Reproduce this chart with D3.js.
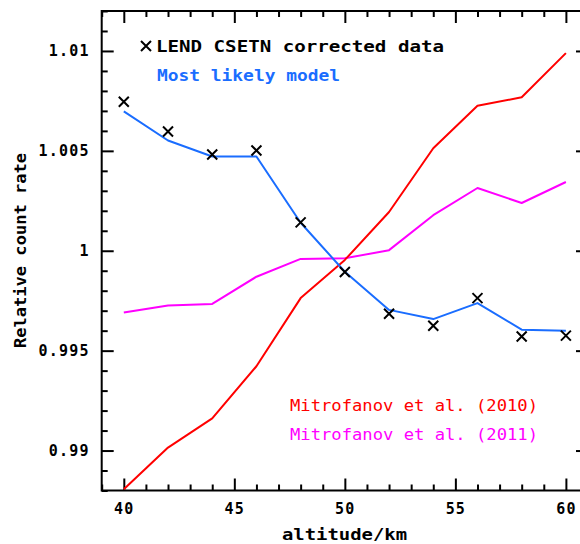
<!DOCTYPE html>
<html>
<head>
<meta charset="utf-8">
<script src="https://cdn.jsdelivr.net/npm/d3@7"></script>
<style>
  html, body { margin: 0; padding: 0; background: #fff; }
  svg { display: block; }
  text { font-family: "DejaVu Sans Mono", monospace; font-weight: bold; }
</style>
</head>
<body>
<svg id="chart" width="580" height="544"></svg>
<script>
// ---- data ----
const altitudes = [40, 42, 44, 46, 48, 50, 52, 54, 56, 58, 60];
const lendData = [1.00746, 1.00597, 1.00482, 1.00502, 1.00142, 0.99894, 0.99685, 0.99625, 0.99763, 0.99571, 0.99575];
const modelValues = [1.00698, 1.00552, 1.00472, 1.00472, 1.00140, 0.99895, 0.99704, 0.99658, 0.99738, 0.99605, 0.99600];
const mitro2010 = [0.98806, 0.99015, 0.99161, 0.99422, 0.99763, 0.99954, 1.00194, 1.00513, 1.00726, 1.00768, 1.00989];
const mitro2011 = [0.99691, 0.99726, 0.99734, 0.99870, 0.99959, 0.99962, 1.00003, 1.00178, 1.00314, 1.00239, 1.00344];
const xTickValues = [40, 45, 50, 55, 60];
const xMinorValues = [39, 41, 42, 43, 44, 46, 47, 48, 49, 51, 52, 53, 54, 56, 57, 58, 59, 61];
const yTickValues = [0.99, 0.995, 1, 1.005, 1.01];
const yTickLabels = ["0.99", "0.995", "1", "1.005", "1.01"];
const yMinorValues = [0.988, 0.989, 0.991, 0.992, 0.993, 0.994, 0.996, 0.997, 0.998, 0.999, 1.001, 1.002, 1.003, 1.004, 1.006, 1.007, 1.008, 1.009, 1.011, 1.012];
const legendEntries = [
  { label: "LEND CSETN corrected data", color: "#000000" },
  { label: "Most likely model", color: "#1a6dff" }
];
const refEntries = [
  { label: "Mitrofanov et al. (2010)", color: "#ff0000" },
  { label: "Mitrofanov et al. (2011)", color: "#ff00ff" }
];
const xLabel = "altitude/km";
const yLabel = "Relative count rate";

// ---- layout ----
const L = 101.7, R = 588, T = 11, B = 490.5;
const svg = d3.select("#chart");
const x = d3.scaleLinear().domain([39, 61]).range([L, R]);
const y = d3.scaleLinear().domain([0.988, 1.012]).range([B, T]);

function styleAxis(g) {
  g.select(".domain").remove();
  g.selectAll("line").attr("stroke", "#000").attr("stroke-width", 2);
  g.selectAll("text").attr("fill", "#000").style("font-size", "15px").style("letter-spacing", "1.2px");
}

// bottom
svg.append("g").attr("transform", `translate(0,${B})`)
  .call(d3.axisBottom(x).tickValues(xTickValues).tickSize(-12).tickPadding(13).tickFormat(d3.format("d")))
  .call(styleAxis);
svg.append("g").attr("transform", `translate(0,${B})`)
  .call(d3.axisBottom(x).tickValues(xMinorValues).tickSize(-6).tickFormat(""))
  .call(styleAxis);
// top
svg.append("g").attr("transform", `translate(0,${T})`)
  .call(d3.axisTop(x).tickValues(xTickValues).tickSize(-12).tickFormat(""))
  .call(styleAxis);
svg.append("g").attr("transform", `translate(0,${T})`)
  .call(d3.axisTop(x).tickValues(xMinorValues).tickSize(-6).tickFormat(""))
  .call(styleAxis);
// left
svg.append("g").attr("transform", `translate(${L},0)`)
  .call(d3.axisLeft(y).tickValues(yTickValues).tickSize(-12).tickPadding(12).tickFormat((d, i) => yTickLabels[i]))
  .call(styleAxis);
svg.append("g").attr("transform", `translate(${L},0)`)
  .call(d3.axisLeft(y).tickValues(yMinorValues).tickSize(-6).tickFormat(""))
  .call(styleAxis);
// right
svg.append("g").attr("transform", `translate(${R},0)`)
  .call(d3.axisRight(y).tickValues(yTickValues).tickSize(-12).tickFormat(""))
  .call(styleAxis);
svg.append("g").attr("transform", `translate(${R},0)`)
  .call(d3.axisRight(y).tickValues(yMinorValues).tickSize(-6).tickFormat(""))
  .call(styleAxis);

// frame
svg.append("rect").attr("x", L).attr("y", T).attr("width", R - L).attr("height", B - T)
  .attr("fill", "none").attr("stroke", "#000").attr("stroke-width", 2);

// lines
const clip = svg.append("clipPath").attr("id", "clip").append("rect")
  .attr("x", L).attr("y", T).attr("width", R - L).attr("height", B - T);
const plot = svg.append("g").attr("clip-path", "url(#clip)");
const line = d3.line().x((d, i) => x(altitudes[i])).y(d => y(d));
[[mitro2011, "#ff00ff"], [mitro2010, "#ff0000"], [modelValues, "#1a6dff"]].forEach(([vals, c]) => {
  plot.append("path").datum(vals).attr("d", line)
    .attr("fill", "none").attr("stroke", c).attr("stroke-width", 2).attr("stroke-linejoin", "round");
});

// X markers
const s = 5;
plot.selectAll("path.mark").data(lendData).enter().append("path").attr("class", "mark")
  .attr("d", (d, i) => {
    const cx = x(altitudes[i]), cy = y(d);
    return `M${cx - s},${cy - s}L${cx + s},${cy + s}M${cx - s},${cy + s}L${cx + s},${cy - s}`;
  })
  .attr("stroke", "#000").attr("stroke-width", 2).attr("fill", "none");

// legend
svg.append("path")
  .attr("d", `M${141},${41}L${151},${51}M${141},${51}L${151},${41}`)
  .attr("stroke", "#000").attr("stroke-width", 2);
svg.append("text").attr("x", 156).attr("y", 52).attr("fill", legendEntries[0].color)
  .style("font-size", "16px").attr("textLength", 288).attr("lengthAdjust", "spacingAndGlyphs")
  .text(legendEntries[0].label);
svg.append("text").attr("x", 157).attr("y", 81).attr("fill", legendEntries[1].color)
  .style("font-size", "16px").attr("textLength", 183).attr("lengthAdjust", "spacingAndGlyphs")
  .text(legendEntries[1].label);
svg.append("text").attr("x", 290).attr("y", 411).attr("fill", refEntries[0].color)
  .style("font-size", "15px").style("font-weight", "normal").attr("textLength", 248).attr("lengthAdjust", "spacingAndGlyphs")
  .text(refEntries[0].label);
svg.append("text").attr("x", 290).attr("y", 440).attr("fill", refEntries[1].color)
  .style("font-size", "15px").style("font-weight", "normal").attr("textLength", 248).attr("lengthAdjust", "spacingAndGlyphs")
  .text(refEntries[1].label);

// axis labels
svg.append("text").attr("x", 344.5).attr("y", 540).attr("text-anchor", "middle")
  .style("font-size", "16px").attr("textLength", 125).attr("lengthAdjust", "spacingAndGlyphs")
  .text(xLabel);
svg.append("text").attr("transform", `translate(26,250.5) rotate(-90)`).attr("text-anchor", "middle")
  .style("font-size", "16px").attr("textLength", 195).attr("lengthAdjust", "spacingAndGlyphs")
  .text(yLabel);
</script>
</body>
</html>
